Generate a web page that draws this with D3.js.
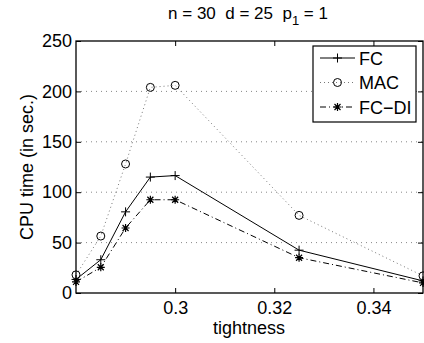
<!DOCTYPE html>
<html>
<head>
<meta charset="utf-8">
<script src="https://cdn.jsdelivr.net/npm/d3@7"></script>
<style>
  body { margin: 0; background: #fff; }
  svg { display: block; }
  text { font-family: "Liberation Sans", Arial, sans-serif; fill: #000; white-space: pre; }
</style>
</head>
<body>
<div id="chart"></div>
<script>
// data
var tightness = [0.28, 0.285, 0.29, 0.295, 0.3, 0.325, 0.35];
var fcTimes   = [13.5, 33, 80.5, 115, 116.5, 42.5, 12];
var macTimes  = [18, 56.5, 128, 204, 206, 77, 17];
var fcdiTimes = [11, 25.5, 64.5, 92.5, 92.5, 35, 10];
var seriesNames = ["FC", "MAC", "FC\u2212DI"];
var xTicks = [0.3, 0.32, 0.34];
var yTicks = [0, 50, 100, 150, 200, 250];

var w = 424, h = 343;
var plotLeft = 76, plotRight = 423, plotTop = 41, plotBottom = 293;

var svg = d3.select("#chart").append("svg").attr("width", w).attr("height", h);

var x = d3.scaleLinear().domain([0.28, 0.35]).range([plotLeft, plotRight]);
var y = d3.scaleLinear().domain([0, 250]).range([plotBottom, plotTop]);

// horizontal dotted grid
svg.append("g").selectAll("line").data(yTicks.filter(function (d) { return d > 0 && d < 250; }))
    .enter().append("line")
    .attr("x1", plotLeft).attr("x2", plotRight)
    .attr("y1", function (d) { return y(d); }).attr("y2", function (d) { return y(d); })
    .style("stroke", "#888").style("stroke-width", 1).style("stroke-dasharray", "1,4");

// axes (ticks pointing inwards)
var xAxis = svg.append("g").attr("transform", "translate(0," + plotBottom + ")")
    .call(d3.axisBottom(x).tickValues(xTicks).tickSize(-5).tickPadding(8).tickFormat(d3.format("")));
var xAxisTop = svg.append("g").attr("transform", "translate(0," + plotTop + ")")
    .call(d3.axisTop(x).tickValues(xTicks).tickSize(-5).tickFormat(""));
var yAxis = svg.append("g").attr("transform", "translate(" + plotLeft + ",0)")
    .call(d3.axisLeft(y).tickValues(yTicks).tickSize(-5).tickPadding(4));
var yAxisRight = svg.append("g").attr("transform", "translate(" + plotRight + ",0)")
    .call(d3.axisRight(y).tickValues(yTicks).tickSize(-5).tickFormat(""));

[xAxis, xAxisTop, yAxis, yAxisRight].forEach(function (a) {
    a.select(".domain").remove();
    a.selectAll("line").style("stroke", "#000");
    a.selectAll("text").style("font-size", "18px").style("font-family", "Liberation Sans, Arial, sans-serif");
});

svg.append("rect").attr("x", plotLeft).attr("y", plotTop)
    .attr("width", plotRight - plotLeft).attr("height", plotBottom - plotTop)
    .style("fill", "none").style("stroke", "#000").style("stroke-width", 1.3);

// series
var line = d3.line().x(function (d) { return x(d[0]); }).y(function (d) { return y(d[1]); });

function pairs(vals) {
    return tightness.map(function (t, i) { return [t, vals[i]]; });
}

var styles = [
    { vals: fcTimes, stroke: "#000", dash: null, marker: "plus" },
    { vals: macTimes, stroke: "#777", dash: "1,3", marker: "circle" },
    { vals: fcdiTimes, stroke: "#000", dash: "6,3,1,3", marker: "star" }
];

function drawMarker(g, kind, cx, cy) {
    if (kind == "plus") {
        g.append("path").attr("d", "M" + (cx - 4.5) + "," + cy + "H" + (cx + 4.5) + "M" + cx + "," + (cy - 4.5) + "V" + (cy + 4.5))
            .style("stroke", "#000").style("stroke-width", 1).style("fill", "none");
    } else if (kind == "circle") {
        g.append("circle").attr("cx", cx).attr("cy", cy).attr("r", 4)
            .style("stroke", "#000").style("stroke-width", 1).style("fill", "none");
    } else {
        var p = "M" + (cx - 4) + "," + cy + "H" + (cx + 4) +
            "M" + cx + "," + (cy - 4) + "V" + (cy + 4) +
            "M" + (cx - 3) + "," + (cy - 3) + "L" + (cx + 3) + "," + (cy + 3) +
            "M" + (cx - 3) + "," + (cy + 3) + "L" + (cx + 3) + "," + (cy - 3);
        g.append("path").attr("d", p).style("stroke", "#000").style("stroke-width", 1.2).style("fill", "none");
    }
}

styles.forEach(function (s) {
    var g = svg.append("g");
    g.append("path").datum(pairs(s.vals)).attr("d", line)
        .style("fill", "none").style("stroke", s.stroke).style("stroke-width", 1)
        .style("stroke-dasharray", s.dash);
    pairs(s.vals).forEach(function (p) {
        drawMarker(g, s.marker, x(p[0]), y(p[1]));
    });
});

// legend
var lg = svg.append("g");
lg.append("rect").attr("x", 313).attr("y", 46).attr("width", 103).attr("height", 76)
    .style("fill", "#fff").style("stroke", "#000").style("stroke-width", 1.2);
styles.forEach(function (s, i) {
    var ly = 58 + i * 24.5;
    lg.append("line").attr("x1", 320).attr("x2", 355).attr("y1", ly).attr("y2", ly)
        .style("stroke", s.stroke).style("stroke-width", 1).style("stroke-dasharray", s.dash);
    drawMarker(lg, s.marker, 337.5, ly);
    lg.append("text").attr("x", 359).attr("y", ly + 6.5).style("font-size", "18px").text(seriesNames[i]);
});

// title and axis labels
var title = svg.append("text").attr("x", 248).attr("y", 19).attr("text-anchor", "middle").style("font-size", "17px");
title.append("tspan").text("n = 30\u00a0\u00a0d = 25\u00a0\u00a0p");
title.append("tspan").attr("dy", 6).style("font-size", "13px").text("1");
title.append("tspan").attr("dy", -6).text(" = 1");

svg.append("text").attr("x", 249).attr("y", 334).attr("text-anchor", "middle").style("font-size", "18px").text("tightness");
svg.append("text").attr("transform", "translate(33," + ((plotTop + plotBottom) / 2) + ") rotate(-90)")
    .attr("text-anchor", "middle").style("font-size", "18px").text("CPU time (in sec.)");
</script>
</body>
</html>
